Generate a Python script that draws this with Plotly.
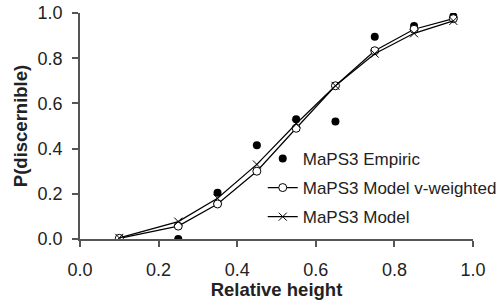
import plotly.graph_objects as go

x_vals = [0.1, 0.25, 0.35, 0.45, 0.55, 0.65, 0.75, 0.85, 0.95]
empiric = [0.0, 0.0, 0.205, 0.415, 0.53, 0.52, 0.895, 0.943, 0.985]
model_vw = [0.003, 0.057, 0.155, 0.30, 0.49, 0.678, 0.833, 0.928, 0.975]
model = [0.005, 0.077, 0.18, 0.33, 0.51, 0.678, 0.82, 0.91, 0.965]

x_ticks = [0.0, 0.2, 0.4, 0.6, 0.8, 1.0]
y_ticks = [0.0, 0.2, 0.4, 0.6, 0.8, 1.0]

font = "Liberation Sans, Arial, sans-serif"
axis_col = "#555555"
txt_col = "#222222"

fig = go.Figure()
fig.add_trace(go.Scatter(
    x=x_vals, y=empiric, mode="markers", name="MaPS3 Empiric",
    marker=dict(symbol="circle", size=8, color="black"),
    legendgroup="a"))
fig.add_trace(go.Scatter(
    x=x_vals, y=model_vw, mode="lines+markers", name="MaPS3 Model v-weighted",
    line=dict(color="black", width=1.2),
    marker=dict(symbol="circle", size=8, color="white", line=dict(color="black", width=1)),
    legendgroup="b"))
fig.add_trace(go.Scatter(
    x=x_vals, y=model, mode="lines+markers", name="MaPS3 Model",
    line=dict(color="black", width=1.2),
    marker=dict(symbol="x-thin", size=8, color="black", line=dict(color="black", width=1)),
    legendgroup="c"))

fig.update_layout(
    width=501, height=305,
    margin=dict(l=80, r=28, t=13, b=66, autoexpand=False),
    plot_bgcolor="white", paper_bgcolor="white",
    font=dict(family=font, size=17, color=txt_col),
    showlegend=True,
    legend=dict(x=0.465, y=0.434, xanchor="left", yanchor="top",
                bgcolor="rgba(0,0,0,0)", font=dict(size=17, color=txt_col),
                tracegroupgap=4, itemwidth=30),
    xaxis=dict(range=[0, 1], tickvals=x_ticks, ticktext=[f"{v:.1f}" for v in x_ticks],
               showgrid=False, zeroline=False, showline=True, linecolor=axis_col, linewidth=1.8,
               ticks="outside", ticklen=6, tickcolor=axis_col, tickwidth=1.8,
               ticklabelstandoff=7, automargin=False, tickfont=dict(size=18),
               title=dict(text="<b>Relative height</b>", font=dict(size=18.5, color=txt_col), standoff=5)),
    yaxis=dict(range=[0, 1], tickvals=y_ticks, ticktext=[f"{v:.1f}" for v in y_ticks],
               showgrid=False, zeroline=False, showline=True, linecolor=axis_col, linewidth=1.8,
               ticks="outside", ticklen=6, tickcolor=axis_col, tickwidth=1.8,
               ticklabelstandoff=6, automargin=False, tickfont=dict(size=18),
               title=dict(text="<b>P(discernible)</b>", font=dict(size=18.5, color=txt_col), standoff=5)),
)

fig.write_html("out.html", config={"displayModeBar": False},
               post_script="document.body.style.margin='0';")
